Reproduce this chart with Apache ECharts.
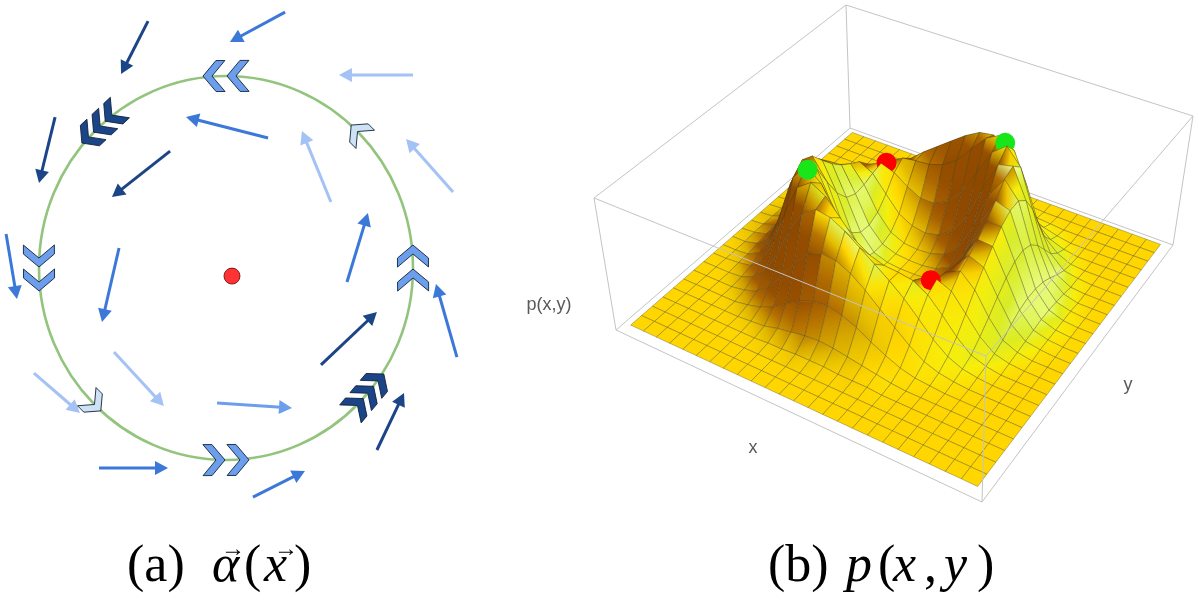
<!DOCTYPE html>
<html>
<head>
<meta charset="utf-8">
<title>alpha(x) flow field and p(x,y) density</title>
<script src="https://cdn.jsdelivr.net/npm/echarts@6/dist/echarts.min.js"></script>
<style>
  html, body { margin: 0; padding: 0; background: #fff; }
  #chart { width: 1199px; height: 604px; }
</style>
</head>
<body>
<div id="chart"></div>
<script>
/* =============================================================
   (a) flow field on the ring  +  (b) p(x,y) surface
   ============================================================= */

// ---- (a) arrows: [tailX, tailY, headX, headY, shade]  (unit = ring radius)
const arrows = [
  [-0.417, 1.286, -0.561, 1.010, 0],
  [0.316, 1.333, 0.021, 1.177, 1],
  [1.000, 1.005, 0.604, 1.005, 3],
  [0.225, 0.677, -0.214, 0.786, 1],
  [0.561, 0.344, 0.406, 0.714, 3],
  [1.214, 0.396, 0.963, 0.672, 3],
  [-0.914, 0.786, -1.000, 0.443, 0],
  [-0.299, 0.609, -0.610, 0.370, 0],
  [-1.176, 0.177, -1.118, -0.161, 1],
  [-0.572, 0.104, -0.663, -0.281, 1],
  [0.647, -0.073, 0.759, 0.286, 1],
  [1.235, -0.464, 1.123, -0.083, 1],
  [0.508, -0.505, 0.807, -0.229, 0],
  [-0.599, -0.438, -0.332, -0.719, 3],
  [-1.027, -0.547, -0.781, -0.755, 3],
  [-0.048, -0.703, 0.353, -0.729, 2],
  [0.807, -0.948, 0.952, -0.651, 0],
  [-0.679, -1.042, -0.310, -1.042, 1],
  [0.144, -1.193, 0.422, -1.057, 1]
];
// chevrons on the ring: [angle deg, count, shade]
const chevrons = [
  [90, 2, 2], [132, 3, 0], [45, 1, 4], [180, 2, 2],
  [0, 2, 2], [225, 1, 4], [270, 2, 2], [319, 3, 0]
];
const ring = [[0, 0, 1]];
const centerDot = [[0.032, -0.042]];

// ---- (b) p(x,y) on a 25 x 25 grid, rows = y index, values in % of max
const heights = [
  [0,0,0,0,0,0,0,0,0,0,0,0,0,0,0,0,0,0,0,0,0,0,0,0,0],
  [0,0,0,0,0,0,0,0,0,0,0,0,0,0,0,0,0,0,0,0,0,0,0,0,0],
  [0,0,0,0,0,0,0,0,0,0,0,0,0,0,0,0,0,0,0,0,0,0,0,0,0],
  [0,0,0,0,0,0,0,0,1,1,2,2,2,1,1,1,0,0,0,0,0,0,0,0,0],
  [0,0,0,0,0,0,1,2,5,7,9,10,9,7,5,3,1,0,0,0,0,0,0,0,0],
  [0,0,0,0,0,2,5,10,18,25,30,31,28,23,16,10,5,2,1,0,0,0,0,0,0],
  [0,0,0,0,2,6,15,29,45,57,62,61,55,46,35,25,15,7,3,1,0,0,0,0,0],
  [0,0,0,1,6,16,36,60,79,87,85,78,69,60,51,41,29,17,8,3,1,0,0,0,0],
  [0,0,1,3,13,34,63,89,98,91,77,63,55,51,50,48,41,29,16,6,2,0,0,0,0],
  [0,0,1,7,24,54,86,100,90,68,47,34,28,28,34,42,46,41,27,13,4,1,0,0,0],
  [0,0,3,12,35,69,94,91,65,38,20,12,9,11,17,30,44,50,39,21,7,2,0,0,0],
  [0,1,4,16,43,76,90,72,41,17,7,3,2,3,8,21,41,55,50,30,12,3,1,0,0],
  [0,1,5,18,46,75,79,55,25,8,2,0,0,1,5,17,40,61,60,38,16,4,1,0,0],
  [0,1,5,18,44,69,69,44,18,5,1,0,0,1,5,18,44,69,69,44,18,5,1,0,0],
  [0,1,4,16,38,60,61,40,17,5,1,0,0,2,8,25,55,79,75,46,18,5,1,0,0],
  [0,1,3,12,30,50,55,41,21,8,3,2,3,7,17,41,72,90,76,43,16,4,1,0,0],
  [0,0,2,7,21,39,50,44,30,17,11,9,12,20,38,65,91,94,69,35,12,3,0,0,0],
  [0,0,1,4,13,27,41,46,42,34,28,28,34,47,68,90,100,86,54,24,7,1,0,0,0],
  [0,0,0,2,6,16,29,41,48,50,51,55,63,77,91,98,89,63,34,13,3,1,0,0,0],
  [0,0,0,1,3,8,17,29,41,51,60,69,78,85,87,79,60,36,16,6,1,0,0,0,0],
  [0,0,0,0,1,3,7,15,25,35,46,55,61,62,57,45,29,15,6,2,0,0,0,0,0],
  [0,0,0,0,0,1,2,5,10,16,23,28,31,30,25,18,10,5,2,0,0,0,0,0,0],
  [0,0,0,0,0,0,0,1,3,5,7,9,10,9,7,5,2,1,0,0,0,0,0,0,0],
  [0,0,0,0,0,0,0,0,1,1,1,2,2,2,1,1,0,0,0,0,0,0,0,0,0],
  [0,0,0,0,0,0,0,0,0,0,0,0,0,0,0,0,0,0,0,0,0,0,0,0,0]
];
// critical points: [x index, y index, height, kind 0 = max / 1 = saddle]
const critPoints = [
  [7.26, 8.76, 100, 0],
  [7.26, 17.24, 46, 1],
  [15.74, 17.24, 100, 0],
  [15.74, 8.76, 46, 1]
];
const axisNames = ['x', 'y', 'p(x,y)'];

(function () {
  'use strict';

  // ============================================================
  //  palette
  // ============================================================
  const C = {
    ring: '#93c47d',
    box: '#c4c4c4',
    mesh: 'rgba(75,65,20,0.5)',
    peak: '#19e619',
    saddle: '#ff0000',
    label: '#5a5a5a'
  };
  const SHADES = ['#1c4587', '#3c78d8', '#6d9eeb', '#a4c2f4', '#cfe2f3'];
  const CHEV = {
    1: { H: 13, D: 11, T: 9, gap: 0 },
    2: { H: 15.5, D: 13, T: 9, gap: 24 },
    3: { H: 14, D: 11, T: 9, gap: 16 }
  };

  // ============================================================
  //  (a) panel frame: ring centre / radii in px
  // ============================================================
  const A_W = 470, A_H = 510, A_CX = 226, A_CY = 268, A_RX = 187, A_RY = 192;

  // ============================================================
  //  (b) box projection (screen corners of the plot box)
  //  order: (0,0) (1,0) (1,1) (0,1)
  // ============================================================
  const BOX_BOT = [[616, 330], [982, 502], [1173, 245], [850, 128]];
  const BOX_TOP = [[594, 198], [986, 356], [1193, 116], [846, 5]];
  const PAD = 0.025, ZPAD = 0.02, ZSPAN = 0.89;
  const N = heights.length - 1;

  function quadMap(P) {
    const [x0, y0] = P[0], [x1, y1] = P[1], [x2, y2] = P[2], [x3, y3] = P[3];
    const dx1 = x1 - x2, dx2 = x3 - x2, sx = x0 - x1 + x2 - x3;
    const dy1 = y1 - y2, dy2 = y3 - y2, sy = y0 - y1 + y2 - y3;
    const den = dx1 * dy2 - dx2 * dy1;
    const g = (sx * dy2 - dx2 * sy) / den;
    const h = (dx1 * sy - sx * dy1) / den;
    const a = x1 - x0 + g * x1, b = x3 - x0 + h * x3;
    const d = y1 - y0 + g * y1, e = y3 - y0 + h * y3;
    return (s, t) => {
      const w = g * s + h * t + 1;
      return [(a * s + b * t + x0) / w, (d * s + e * t + y0) / w];
    };
  }
  const bot = quadMap(BOX_BOT), top = quadMap(BOX_TOP);

  function boxPoint(X, Y, Z) {
    const p = bot(X, Y), q = top(X, Y);
    return [p[0] + (q[0] - p[0]) * Z, p[1] + (q[1] - p[1]) * Z];
  }
  function project(u, v, hgt) {
    return boxPoint(PAD + (1 - 2 * PAD) * u / N, PAD + (1 - 2 * PAD) * v / N,
      ZPAD + ZSPAN * hgt / 100);
  }

  // ============================================================
  //  shading (directional light, box ratios 1:1:0.4)
  // ============================================================
  const LIGHT = (() => { const l = [0.75, 0.1, 0.65], n = Math.hypot(...l); return l.map(c => c / n); })();
  const KZ = 0.4 * ZSPAN / 100 / ((1 - 2 * PAD) / N);
  const RAMP = [
    [-1.0, [125, 60, 0]],
    [0.0, [150, 78, 0]],
    [0.2, [180, 110, 0]],
    [0.35, [205, 155, 0]],
    [0.5, [228, 190, 0]],
    [0.652, [255, 214, 0]],
    [0.8, [248, 238, 10]],
    [0.92, [215, 236, 40]],
    [1.0, [236, 255, 150]]
  ];
  function ramp(t) {
    for (let k = 1; k < RAMP.length; k++) {
      if (t <= RAMP[k][0] || k === RAMP.length - 1) {
        const [t0, c0] = RAMP[k - 1], [t1, c1] = RAMP[k];
        const f = Math.max(0, Math.min(1, (t - t0) / (t1 - t0)));
        return 'rgb(' + c0.map((c, m) => Math.round(c + (c1[m] - c) * f)).join(',') + ')';
      }
    }
  }
  const hAt = (i, j) => heights[Math.max(0, Math.min(N, j))][Math.max(0, Math.min(N, i))];
  // light intensity at every grid vertex (central differences)
  const VT = heights.map((row, j) => row.map((_, i) => {
    const nx = -(hAt(i + 1, j) - hAt(i - 1, j)) / 2 * KZ;
    const ny = -(hAt(i, j + 1) - hAt(i, j - 1)) / 2 * KZ;
    return (nx * LIGHT[0] + ny * LIGHT[1] + LIGHT[2]) / Math.hypot(nx, ny, 1);
  }));

  // draw list, back (B corner) to front (F corner)
  const surfaceItems = [];
  for (let j = 0; j < N; j++) {
    for (let i = 0; i < N; i++) surfaceItems.push([0, i, j, i - j]);
  }
  critPoints.forEach((p, k) => {
    surfaceItems.push([1, k, 0, Math.floor(p[0]) - Math.floor(p[1]) + 0.5]);
  });
  surfaceItems.sort((a, b) => a[3] - b[3]);

  const BACK_EDGES = [
    [[0, 0, 0], [0, 1, 0]], [[0, 1, 0], [1, 1, 0]], [[0, 1, 0], [0, 1, 1]],
    [[0, 0, 1], [0, 1, 1]], [[0, 1, 1], [1, 1, 1]]
  ];
  const FRONT_EDGES = [
    [[0, 0, 0], [1, 0, 0]], [[1, 0, 0], [1, 1, 0]], [[0, 0, 0], [0, 0, 1]],
    [[1, 0, 0], [1, 0, 1]], [[1, 1, 0], [1, 1, 1]], [[0, 0, 1], [1, 0, 1]],
    [[1, 0, 1], [1, 1, 1]]
  ];

  // ============================================================
  //  renderers
  // ============================================================
  function renderRing(params, api) {
    const c = api.coord([api.value(0), api.value(1)]);
    const s = api.size([api.value(2), api.value(2)]);
    return {
      type: 'ellipse',
      shape: { cx: c[0], cy: c[1], rx: s[0], ry: s[1] },
      style: { fill: 'none', stroke: C.ring, lineWidth: 2.6 }
    };
  }

  function renderArrow(params, api) {
    const p0 = api.coord([api.value(0), api.value(1)]);
    const p1 = api.coord([api.value(2), api.value(3)]);
    const color = SHADES[api.value(4)];
    const dx = p1[0] - p0[0], dy = p1[1] - p0[1], len = Math.hypot(dx, dy);
    const ux = dx / len, uy = dy / len, HL = 13, HW = 7;
    const bx = p1[0] - ux * HL, by = p1[1] - uy * HL;
    return {
      type: 'group',
      children: [
        { type: 'line', shape: { x1: p0[0], y1: p0[1], x2: bx + ux * 2, y2: by + uy * 2 },
          style: { stroke: color, lineWidth: 3 } },
        { type: 'polygon', shape: { points: [p1, [bx - uy * HW, by + ux * HW], [bx + uy * HW, by - ux * HW]] },
          style: { fill: color } }
      ]
    };
  }

  function renderChevrons(params, api) {
    const phi = api.value(0) * Math.PI / 180, n = api.value(1), shade = api.value(2);
    const c = api.coord([Math.cos(phi), Math.sin(phi)]);
    const c2 = api.coord([Math.cos(phi + 0.01), Math.sin(phi + 0.01)]);
    let tx = c2[0] - c[0], ty = c2[1] - c[1];
    const tl = Math.hypot(tx, ty); tx /= tl; ty /= tl;
    const nx = -ty, ny = tx;
    const S = CHEV[n], w = S.D + S.T;
    const local = [[-w / 2, S.H], [-w / 2 + S.T, S.H], [w / 2, 0],
      [-w / 2 + S.T, -S.H], [-w / 2, -S.H], [w / 2 - S.T, 0]];
    const children = [];
    for (let k = 0; k < n; k++) {
      const off = (k - (n - 1) / 2) * S.gap;
      const ox = c[0] + tx * off, oy = c[1] + ty * off;
      children.push({
        type: 'polygon',
        shape: { points: local.map(([a, b]) => [ox + tx * a + nx * b, oy + ty * a + ny * b]) },
        style: { fill: SHADES[shade], stroke: '#10213d', lineWidth: 0.9 }
      });
    }
    return { type: 'group', children };
  }

  function renderEdges(list) {
    return function (params, api) {
      const e = list[api.value(0)];
      const a = api.coord(boxPoint(...e[0])), b = api.coord(boxPoint(...e[1]));
      return { type: 'line', shape: { x1: a[0], y1: a[1], x2: b[0], y2: b[1] },
        style: { stroke: C.box, lineWidth: 1 } };
    };
  }

  function renderSurface(params, api) {
    const kind = api.value(0);
    if (kind === 0) {
      const i = api.value(1), j = api.value(2);
      const pts = [[i, j], [i + 1, j], [i + 1, j + 1], [i, j + 1]]
        .map(([u, v]) => api.coord(project(u, v, heights[v][u])));
      const t00 = VT[j][i], t10 = VT[j][i + 1], t11 = VT[j + 1][i + 1], t01 = VT[j + 1][i];
      const tm = (t00 + t10 + t11 + t01) / 4;
      let pa, pb, ta, tb;
      if (Math.abs(t11 - t00) >= Math.abs(t01 - t10)) { pa = pts[0]; pb = pts[2]; ta = t00; tb = t11; }
      else { pa = pts[1]; pb = pts[3]; ta = t10; tb = t01; }
      const fill = new echarts.graphic.LinearGradient(pa[0], pa[1], pb[0], pb[1], [
        { offset: 0, color: ramp(ta) }, { offset: 0.5, color: ramp(tm) }, { offset: 1, color: ramp(tb) }
      ], true);
      return { type: 'polygon', shape: { points: pts },
        style: { fill, stroke: C.mesh, lineWidth: 0.7 } };
    }
    const p = critPoints[api.value(1)];
    const c = api.coord(project(p[0], p[1], p[2]));
    return { type: 'circle', shape: { cx: c[0], cy: c[1], r: 10 },
      style: { fill: p[3] ? C.saddle : C.peak } };
  }

  // ============================================================
  //  captions and axis labels
  // ============================================================
  const SERIF = '"Liberation Serif", "DejaVu Serif", serif';
  const capText = (text, x, italic) => ({
    type: 'text', x, y: 567,
    style: { text, font: (italic ? 'italic ' : '') + '52px ' + SERIF, fill: '#000',
      textAlign: 'left', textVerticalAlign: 'middle' }
  });
  const vecArrow = (cx) => ({
    type: 'text', x: cx, y: 550,
    style: { text: '\u2192', font: '24px ' + SERIF, fill: '#000',
      textAlign: 'center', textVerticalAlign: 'middle' }
  });
  const axText = (text, x, y) => ({
    type: 'text', x, y,
    style: { text, font: '18px "Liberation Sans", Arial, sans-serif', fill: C.label,
      textAlign: 'center', textVerticalAlign: 'middle' }
  });

  const graphics = [
    capText('(a)', 127, false), capText('\u03b1', 212, true), capText('(', 244, false),
    capText('x', 264, true), capText(')', 294, false),
    vecArrow(233), vecArrow(286),
    capText('(b)', 768, false), capText('p', 846, true), capText('(', 878, false),
    capText('x', 893, true), capText(',', 924, false), capText('y', 944, true),
    capText(')', 977, false),
    axText(axisNames[0], 753, 448), axText(axisNames[1], 1128, 385), axText(axisNames[2], 549, 305)
  ];

  // ============================================================
  //  chart
  // ============================================================
  const chart = echarts.init(document.getElementById('chart'), null, { renderer: 'canvas' });
  chart.setOption({
    animation: false,
    backgroundColor: '#fff',
    grid: [
      { left: 0, top: 0, width: A_W, height: A_H, show: false },
      { left: 0, top: 0, width: 1199, height: 604, show: false }
    ],
    xAxis: [
      { gridIndex: 0, type: 'value', min: -A_CX / A_RX, max: (A_W - A_CX) / A_RX, show: false },
      { gridIndex: 1, type: 'value', min: 0, max: 1199, show: false }
    ],
    yAxis: [
      { gridIndex: 0, type: 'value', min: -(A_H - A_CY) / A_RY, max: A_CY / A_RY, show: false },
      { gridIndex: 1, type: 'value', min: 0, max: 604, inverse: true, show: false }
    ],
    series: [
      { type: 'custom', xAxisIndex: 0, yAxisIndex: 0, z: 1, data: ring, renderItem: renderRing },
      { type: 'custom', xAxisIndex: 0, yAxisIndex: 0, z: 2, data: arrows, renderItem: renderArrow },
      { type: 'custom', xAxisIndex: 0, yAxisIndex: 0, z: 3, data: chevrons, renderItem: renderChevrons },
      { type: 'scatter', xAxisIndex: 0, yAxisIndex: 0, z: 4, data: centerDot, symbolSize: 16,
        itemStyle: { color: '#ff0000', borderColor: '#6b0000', borderWidth: 1 } },
      { type: 'custom', xAxisIndex: 1, yAxisIndex: 1, z: 1,
        data: BACK_EDGES.map((e, k) => [k, 0]), renderItem: renderEdges(BACK_EDGES) },
      { type: 'custom', xAxisIndex: 1, yAxisIndex: 1, z: 2, data: surfaceItems, renderItem: renderSurface },
      { type: 'custom', xAxisIndex: 1, yAxisIndex: 1, z: 3,
        data: FRONT_EDGES.map((e, k) => [k, 0]), renderItem: renderEdges(FRONT_EDGES) }
    ],
    graphic: graphics
  });
  window.addEventListener('resize', () => chart.resize());
})();
</script>
</body>
</html>
